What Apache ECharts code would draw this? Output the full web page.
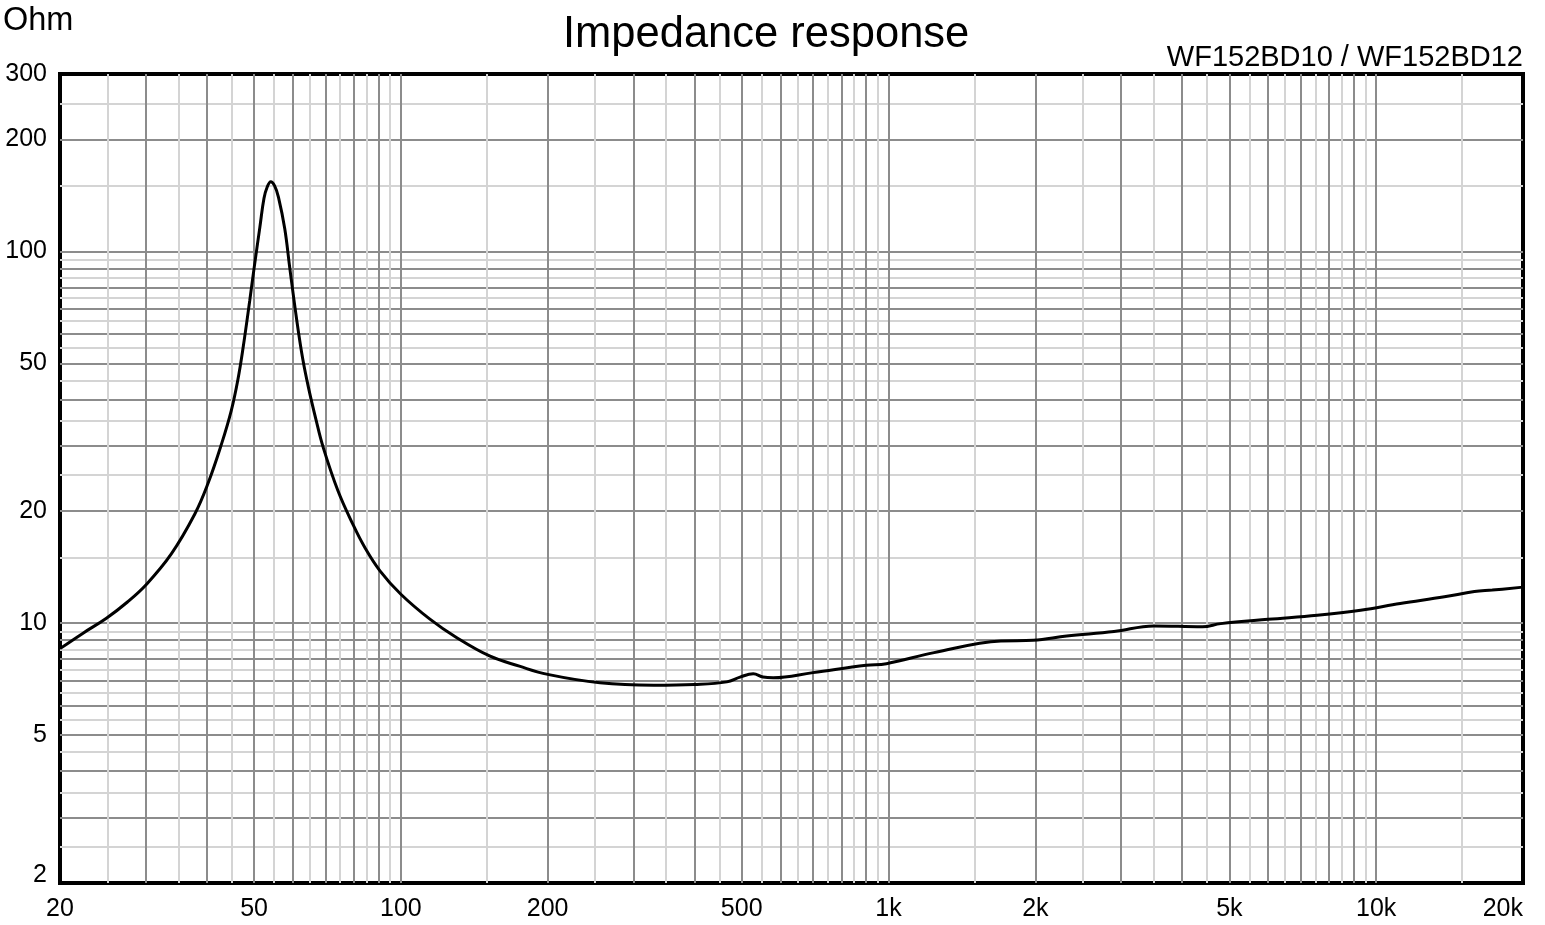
<!DOCTYPE html>
<html>
<head>
<meta charset="utf-8">
<script src="https://cdn.jsdelivr.net/npm/echarts@6/dist/echarts.min.js"></script>
<style>
html,body{margin:0;padding:0;background:#fff;}
#chart{width:1545px;height:925px;}
</style>
</head>
<body>
<div id="chart"></div>
<script>
// ---- data ----
const freqHz = [20, 22.3, 24.9, 27.5, 30.1, 33.8, 37.8, 40.2, 42.9, 44.9, 46.3, 47.5, 49.0, 50.0, 51.4, 52.4, 53.2, 54.1, 55.1, 56.1, 57.8, 59.2, 61.2, 62.9, 64.7, 66.9, 69.3, 74.3, 79.8, 84.3, 90.6, 100, 114.7, 130, 152, 175, 200, 256, 330, 400, 466, 496, 528, 553, 580, 700, 900, 990, 1240, 1700, 1980, 2320, 2900, 3500, 4400, 4800, 6000, 7570, 9290, 11200, 13800, 15900, 17300, 20000];
const impedanceOhm = [8.54, 9.4, 10.31, 11.4, 12.73, 15.33, 19.66, 23.7, 30.4, 37.3, 45.0, 55.3, 73.9, 90, 116.4, 139, 149, 153.9, 150, 140, 115, 90, 65, 51.5, 42.8, 35.5, 29.7, 22.7, 18.4, 16.0, 13.83, 11.96, 10.25, 9.15, 8.16, 7.66, 7.28, 6.91, 6.81, 6.84, 6.95, 7.16, 7.31, 7.16, 7.13, 7.36, 7.70, 7.78, 8.33, 8.95, 8.99, 9.23, 9.49, 9.83, 9.78, 9.97, 10.24, 10.5, 10.83, 11.29, 11.77, 12.16, 12.27, 12.5];

const xLabelValues = [20, 50, 100, 200, 500, 1000, 2000, 5000, 10000, 20000];
const yLabelValues = [2, 5, 10, 20, 50, 100, 200, 300];
// grid lines: every 0.5 step of each decade (integer steps dark, half steps light)
const xGridValues = [20,25,30,35,40,45,50,55,60,65,70,75,80,85,90,95,
  100,150,200,250,300,350,400,450,500,550,600,650,700,750,800,850,900,950,
  1000,1500,2000,2500,3000,3500,4000,4500,5000,5500,6000,6500,7000,7500,8000,8500,9000,9500,
  10000,15000,20000];
const yGridValues = [2,2.5,3,3.5,4,4.5,5,5.5,6,6.5,7,7.5,8,8.5,9,9.5,
  10,15,20,25,30,35,40,45,50,55,60,65,70,75,80,85,90,95,
  100,150,200,250,300];

const titleText = 'Impedance response';
const subTitleText = 'WF152BD10 / WF152BD12';
const unitText = 'Ohm';

const FONT = 'Arial, "Liberation Sans", sans-serif';
const DARK = '#8c8c8c';
const LIGHT = '#d4d4d4';

const chart = echarts.init(document.getElementById('chart'), null, {renderer: 'canvas'});

const fmtX = v => {
  const n = Math.round(v);
  return n >= 1000 ? (n / 1000) + 'k' : String(n);
};

chart.setOption({
  backgroundColor: '#ffffff',
  animation: false,
  title: [
    {text: titleText, left: 563, top: 13, padding: 0, textStyle: {fontFamily: FONT, fontSize: 43.5, fontWeight: 'normal', color: '#000'}},
    {text: subTitleText, right: 22, top: 43, padding: 0, textStyle: {fontFamily: FONT, fontSize: 29, fontWeight: 'normal', color: '#000'}},
    {text: unitText, left: 3, top: 5, padding: 0, textStyle: {fontFamily: FONT, fontSize: 32.5, fontWeight: 'normal', color: '#000'}}
  ],
  grid: {
    left: 60, right: 22, top: 74, bottom: 42,
    show: true, borderColor: '#000', borderWidth: 4, backgroundColor: 'transparent',
    containLabel: false
  },
  xAxis: {
    type: 'log', logBase: 10, min: 20, max: 20000,
    axisLine: {show: false},
    axisTick: {show: false, customValues: xGridValues},
    axisLabel: {
      customValues: xLabelValues, formatter: fmtX,
      fontFamily: FONT, fontSize: 25, color: '#000', margin: 14,
      alignMaxLabel: 'right', showMinLabel: true, showMaxLabel: true
    },
    splitLine: {show: true, showMinLine: false, showMaxLine: false, lineStyle: {color: [LIGHT, DARK], width: 2}}
  },
  yAxis: {
    type: 'log', logBase: 10, min: 2, max: 300,
    axisLine: {show: false},
    axisTick: {show: false, customValues: yGridValues},
    axisLabel: {
      customValues: yLabelValues, formatter: v => String(Math.round(v)),
      fontFamily: FONT, fontSize: 25, lineHeight: 15, color: '#000', margin: 13,
      verticalAlignMinLabel: 'bottom', showMinLabel: true, showMaxLabel: true
    },
    splitLine: {show: true, showMinLine: false, showMaxLine: false, lineStyle: {color: [LIGHT, DARK], width: 2}}
  },
  series: [{
    type: 'line',
    data: freqHz.map((f, i) => [f, impedanceOhm[i]]),
    smooth: 0.4,
    showSymbol: false,
    symbol: 'none',
    lineStyle: {color: '#000', width: 3},
    z: 5
  }]
});
</script>
</body>
</html>
